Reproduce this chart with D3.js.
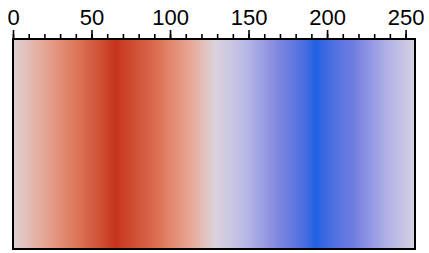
<!DOCTYPE html>
<html>
  <head>
    <meta http-equiv="Content-Type" content="text/html;charset=utf-8"/>
    <title>Colorbar</title>
    <script src="https://d3js.org/d3.v7.min.js"></script>
    <style>
      body { margin: 0; background: #fff; }
      svg text { font-family: "Liberation Sans", Arial, sans-serif; }
    </style>
  </head>
  <body>
    <div id="content"></div>
    <script type="text/javascript">
      // colour stops of the cyclic map (value -> colour)
      const stopValues = [0, 18, 38, 65, 90, 112, 128, 146, 168, 192, 216, 238, 255]
      const stopColors = ['#ddd0d4', '#e5ab9b', '#df7c5f', '#c5321b', '#db6b4f', '#e7a692', '#dcd3dc',
                          '#bcbce6', '#7f88e0', '#1c62e2', '#6f7ee0', '#b2b3e6', '#d6d2e2']
      const majorTicks = [0, 50, 100, 150, 200, 250]
      const minorTicks = d3.range(0, 251, 10)
      const levels = d3.range(0, 256)

      const width = 429, height = 253
      const mLeft = 13, mRight = 415, mTop = 39, mBottom = 249

      const x = d3.scaleLinear().domain([0, 256]).range([mLeft, mRight])
      const color = d3.scaleLinear().domain(stopValues).range(stopColors).interpolate(d3.interpolateLab)

      const svg = d3.select('#content').append('svg').attr('width', width).attr('height', height)

      // smooth gradient built from the colour scale
      const grad = svg.append('defs').append('linearGradient')
        .attr('id', 'cmap')
        .attr('x1', '0%').attr('x2', '100%').attr('y1', '0%').attr('y2', '0%')
      grad.selectAll('stop')
        .data(levels)
        .enter()
        .append('stop')
        .attr('offset', d => (d / 255 * 100) + '%')
        .attr('stop-color', d => color(d))

      svg.append('rect')
        .attr('x', x(0))
        .attr('y', mTop)
        .attr('width', x(256) - x(0))
        .attr('height', mBottom - mTop)
        .attr('fill', 'url(#cmap)')

      // minor ticks
      svg.append('g')
        .attr('transform', 'translate(0,' + mTop + ')')
        .call(d3.axisTop(x).tickValues(minorTicks).tickSize(5).tickFormat(''))
        .call(g => g.select('.domain').remove())
        .call(g => g.selectAll('line').attr('stroke', '#000').attr('stroke-width', 1.6))

      // major ticks with labels
      svg.append('g')
        .attr('transform', 'translate(0,' + mTop + ')')
        .call(d3.axisTop(x).tickValues(majorTicks).tickSize(9).tickPadding(5))
        .call(g => g.select('.domain').remove())
        .call(g => g.selectAll('line').attr('stroke', '#000').attr('stroke-width', 1.6))
        .call(g => g.selectAll('text').attr('font-size', 22).attr('fill', '#000')
                    .style('font-family', '"Liberation Sans", Arial, sans-serif'))

      svg.append('rect')
        .attr('x', mLeft)
        .attr('y', mTop)
        .attr('width', mRight - mLeft)
        .attr('height', mBottom - mTop)
        .attr('fill', 'none')
        .attr('stroke', '#000')
        .attr('stroke-width', 2)
    </script>
  </body>
</html>
